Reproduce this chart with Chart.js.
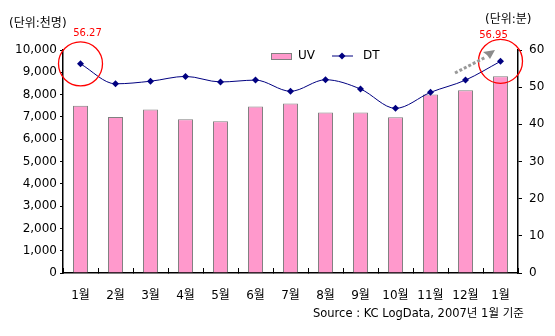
<!DOCTYPE html>
<html>
<head>
<meta charset="utf-8">
<script src="https://cdn.jsdelivr.net/npm/chart.js@4"></script>
<style>
  body { margin: 0; background: #fff; }
  #wrap { width: 555px; height: 336px; position: relative; }
</style>
</head>
<body>
<div id="wrap"><canvas id="uvChart" width="555" height="336"></canvas></div>
<script>
// === DATA ===
const months = ['1월', '2월', '3월', '4월', '5월', '6월', '7월', '8월', '9월', '10월', '11월', '12월', '1월'];
const uvValues = [7500, 7000, 7330, 6900, 6800, 7470, 7600, 7200, 7200, 6980, 8000, 8200, 8820];
const dtValues = [56.27, 50.9, 51.6, 52.9, 51.4, 51.9, 48.9, 52.0, 49.5, 44.3, 48.6, 51.9, 56.95];
const leftTicks = [0, 1000, 2000, 3000, 4000, 5000, 6000, 7000, 8000, 9000, 10000];
const rightTicks = [0, 10, 20, 30, 40, 50, 60];

const FONT = '"DejaVu Sans", "Noto Sans CJK KR", sans-serif';
const NAVY = '#000080';
const PINK = '#FF99CC';

// extra drawing: unit labels, legend, highlight circles, arrow, source
const decorations = {
  id: 'decorations',
  afterDraw(chart) {
    const ctx = chart.ctx;
    const x = chart.scales.x;
    const yR = chart.scales.yR;
    ctx.save();
    ctx.font = '12px ' + FONT;
    ctx.fillStyle = '#000';
    ctx.textBaseline = 'middle';
    ctx.textAlign = 'left';
    ctx.fillText('(단위:천명)', 9, 24);
    ctx.fillText('(단위:분)', 485, 20);
    ctx.font = '11.5px ' + FONT;
    ctx.fillText('Source : KC LogData, 2007년 1월 기준', 313, 314);

    // legend
    ctx.font = '12px ' + FONT;
    ctx.fillStyle = PINK;
    ctx.strokeStyle = '#808080';
    ctx.lineWidth = 1;
    ctx.fillRect(271, 53, 20, 6);
    ctx.strokeRect(271.5, 53.5, 20, 6);
    ctx.fillStyle = '#000';
    ctx.fillText('UV', 298, 56);
    ctx.strokeStyle = NAVY;
    ctx.beginPath();
    ctx.moveTo(332, 56);
    ctx.lineTo(353, 56);
    ctx.stroke();
    ctx.fillStyle = NAVY;
    ctx.beginPath();
    ctx.moveTo(342, 52.5); ctx.lineTo(345.5, 56); ctx.lineTo(342, 59.5); ctx.lineTo(338.5, 56);
    ctx.closePath();
    ctx.fill();
    ctx.fillStyle = '#000';
    ctx.fillText('DT', 363, 56);

    // red circles around first and last DT point
    const last = dtValues.length - 1;
    const p0 = { x: x.getPixelForValue(0), y: yR.getPixelForValue(dtValues[0]) };
    const p1 = { x: x.getPixelForValue(last), y: yR.getPixelForValue(dtValues[last]) };
    ctx.strokeStyle = '#FF0000';
    ctx.lineWidth = 1.3;
    [p0, p1].forEach(p => {
      ctx.beginPath();
      ctx.arc(p.x, p.y, 22, 0, Math.PI * 2);
      ctx.stroke();
    });
    ctx.fillStyle = '#FF0000';
    ctx.font = '10px ' + FONT;
    ctx.textAlign = 'center';
    ctx.fillText(dtValues[0].toFixed(2), p0.x + 7, 33);
    ctx.fillText(dtValues[last].toFixed(2), p1.x - 7, 35);

    // dotted gray arrow
    ctx.strokeStyle = '#999999';
    ctx.lineWidth = 3;
    ctx.setLineDash([3, 2]);
    ctx.beginPath();
    ctx.moveTo(455, 73);
    ctx.lineTo(486, 57);
    ctx.stroke();
    ctx.setLineDash([]);
    ctx.fillStyle = '#8c8c8c';
    ctx.beginPath();
    ctx.moveTo(495, 50);
    ctx.lineTo(483, 52);
    ctx.lineTo(487, 55);
    ctx.lineTo(490, 59);
    ctx.closePath();
    ctx.fill();
    ctx.restore();
  }
};

new Chart(document.getElementById('uvChart').getContext('2d'), {
  data: {
    labels: months,
    datasets: [
      {
        type: 'line',
        label: 'DT',
        data: dtValues,
        yAxisID: 'yR',
        borderColor: NAVY,
        borderWidth: 1,
        backgroundColor: NAVY,
        pointStyle: 'rectRot',
        pointRadius: 3.5,
        pointBackgroundColor: NAVY,
        pointBorderWidth: 0,
        cubicInterpolationMode: 'monotone',
        order: 0
      },
      {
        type: 'bar',
        label: 'UV',
        data: uvValues,
        yAxisID: 'y',
        backgroundColor: PINK,
        borderColor: '#808080',
        borderWidth: 1,
        barPercentage: 0.43,
        categoryPercentage: 1,
        order: 1
      }
    ]
  },
  options: {
    responsive: false,
    animation: false,
    layout: { padding: { top: 50, bottom: 18, left: 0, right: 0 } },
    plugins: { legend: { display: false }, tooltip: { enabled: false } },
    scales: {
      x: {
        offset: true,
        afterFit: axis => { axis.height = 45; },
        grid: { display: true, drawOnChartArea: false, offset: true, color: '#000', tickLength: -5 },
        border: { color: '#000', width: 1.5 },
        ticks: { color: '#000', font: { family: FONT, size: 12 }, padding: 21, maxRotation: 0, autoSkip: false }
      },
      y: {
        position: 'left',
        min: 0,
        max: 10000,
        afterBuildTicks: axis => { axis.ticks = leftTicks.map(v => ({ value: v })); },
        afterFit: axis => { axis.width = 63; },
        grid: { display: true, drawOnChartArea: false, color: '#000', tickLength: 3 },
        border: { color: '#000', width: 1.5 },
        ticks: {
          color: '#000',
          font: { family: FONT, size: 12 },
          padding: 3,
          callback: v => v.toLocaleString('en-US')
        }
      },
      yR: {
        position: 'right',
        min: 0,
        max: 60,
        afterBuildTicks: axis => { axis.ticks = rightTicks.map(v => ({ value: v })); },
        afterFit: axis => { axis.width = 37; },
        grid: { display: true, drawOnChartArea: false, color: '#000', tickLength: 4 },
        border: { color: '#000', width: 1.5 },
        ticks: { color: '#000', font: { family: FONT, size: 12 }, padding: 7 }
      }
    }
  },
  plugins: [decorations]
});
</script>
</body>
</html>
